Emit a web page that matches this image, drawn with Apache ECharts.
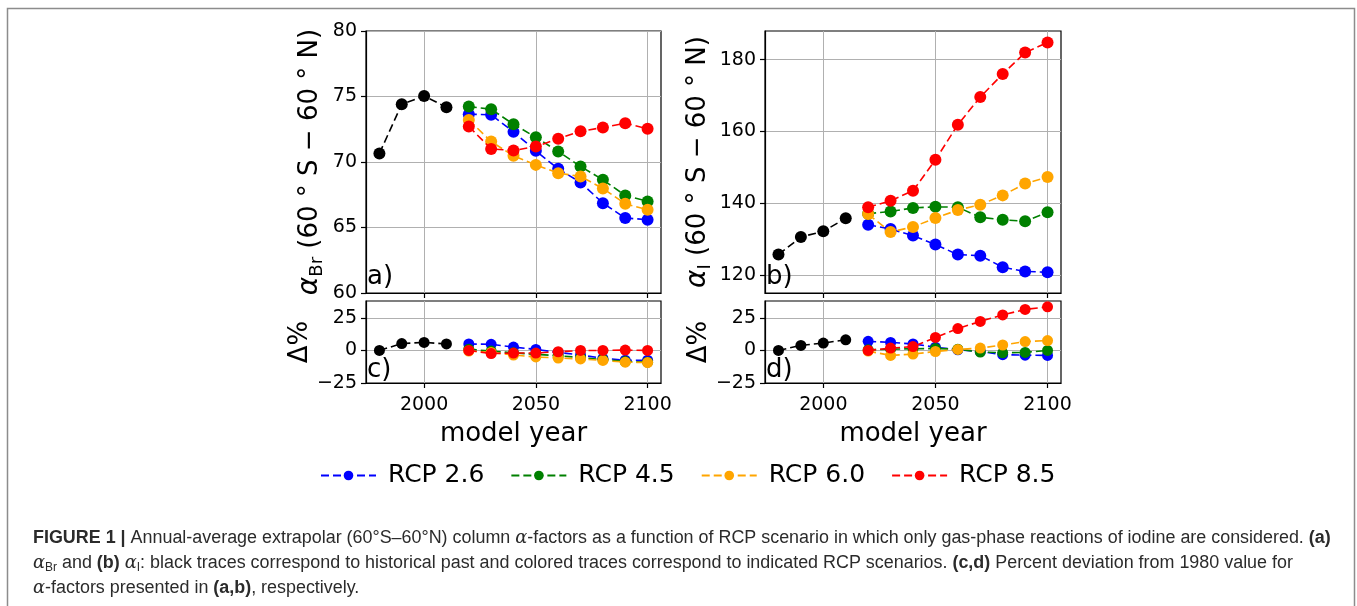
<!DOCTYPE html>
<html><head><meta charset="utf-8">
<script src="https://cdn.jsdelivr.net/npm/echarts@6/dist/echarts.min.js"></script>
<style>html,body{margin:0;padding:0;background:#fff}#c{width:1357px;height:606px}</style>
</head><body><div id="c"></div>
<script>
// ---- data ----
const yearsHist = [1980, 1990, 2000, 2010];
const yearsRcp = [2020, 2030, 2040, 2050, 2060, 2070, 2080, 2090, 2100];
const scenarios = ['RCP 2.6', 'RCP 4.5', 'RCP 6.0', 'RCP 8.5'];
const xTicks = [2000, 2050, 2100];
const aTicks = [60, 65, 70, 75, 80];
const bTicks = [120, 140, 160, 180];
const cdTicks = [-25, 0, 25];

// panel a: alpha_Br
const brHist  = [70.65, 74.41, 75.04, 74.18];
const brRcp26 = [73.65, 73.60, 72.30, 70.85, 69.48, 68.44, 66.86, 65.72, 65.60];
const brRcp45 = [74.23, 74.03, 72.88, 71.89, 70.80, 69.66, 68.64, 67.45, 66.99];
const brRcp60 = [73.21, 71.56, 70.47, 69.78, 69.15, 68.90, 67.98, 66.81, 66.35];
const brRcp85 = [72.71, 71.00, 70.88, 71.18, 71.77, 72.35, 72.63, 72.96, 72.53];
// panel b: alpha_I
const iHist  = [125.7, 130.6, 132.2, 135.8];
const iRcp26 = [134.0, 132.8, 131.0, 128.5, 125.7, 125.4, 122.2, 121.0, 120.8];
const iRcp45 = [137.1, 137.7, 138.7, 139.0, 138.9, 136.1, 135.4, 135.0, 137.5];
const iRcp60 = [137.0, 132.0, 133.4, 135.9, 138.1, 139.6, 142.2, 145.5, 147.3];
const iRcp85 = [138.9, 140.7, 143.5, 152.1, 161.9, 169.6, 176.0, 182.0, 184.8];
// panel c: delta % Br
const dBrHist  = [0, 5.3, 6.2, 5.0];
const dBrRcp26 = [5.0, 4.7, 2.6, 0.8, -1.5, -3.5, -6.0, -7.5, -7.5];
const dBrRcp45 = [1.0, -0.5, -1.8, -3.0, -4.0, -5.5, -7.0, -8.5, -9.0];
const dBrRcp60 = [-0.5, -1.5, -3.5, -5.0, -5.8, -6.5, -7.7, -9.0, -9.3];
const dBrRcp85 = [0, -2.4, -2.0, -2.0, -1.0, 0, 0, 0.3, 0];
// panel d: delta % I
const dIHist  = [0, 3.9, 5.7, 8.2];
const dIRcp26 = [7.0, 6.2, 5.0, 2.5, 0.5, -0.8, -3.2, -3.6, -3.8];
const dIRcp45 = [0.5, 1.0, 1.3, 1.5, 1.0, -1.2, -1.8, -1.5, 0];
const dIRcp60 = [-0.5, -3.8, -2.8, -0.8, 0.8, 1.8, 4.2, 6.8, 7.6];
const dIRcp85 = [0, 1.8, 3.0, 10.0, 16.8, 22.3, 27.3, 31.5, 33.5];

const colors = ['#0000ff', '#008000', '#ffa500', '#ff0000'];
const FONT = 'DejaVu Sans';

const panels = [
  {hist: brHist, rcp: [brRcp26, brRcp45, brRcp60, brRcp85], size: 12},
  {hist: iHist,  rcp: [iRcp26, iRcp45, iRcp60, iRcp85], size: 12},
  {hist: dBrHist, rcp: [dBrRcp26, dBrRcp45, dBrRcp60, dBrRcp85], size: 11},
  {hist: dIHist,  rcp: [dIRcp26, dIRcp45, dIRcp60, dIRcp85], size: 11}
];

function mk(name, color, xs, ys, idx, size, z) {
  return {
    type: 'line', name, xAxisIndex: idx, yAxisIndex: idx,
    data: xs.map((x, i) => [x, ys[i]]),
    symbol: 'circle', symbolSize: size, showSymbol: true,
    itemStyle: {color, borderWidth: 0},
    lineStyle: {color, width: 1.6, type: [8, 4]},
    z, animation: false, emphasis: {disabled: true}
  };
}

const series = [];
panels.forEach((p, idx) => {
  series.push(mk('hist', '#000000', yearsHist, p.hist, idx, p.size, 2));
  p.rcp.forEach((vals, k) => series.push(mk(scenarios[k], colors[k], yearsRcp, vals, idx, p.size, 3 + k)));
});

const grids = [
  {left: 366, top: 31, width: 295, height: 262},
  {left: 765, top: 31, width: 296, height: 262},
  {left: 366, top: 301, width: 295, height: 82},
  {left: 765, top: 301, width: 296, height: 82}
].map(g => Object.assign(g, {show: true, borderColor: '#000', borderWidth: 1.2, backgroundColor: 'transparent'}));

const gridLine = {show: true, lineStyle: {color: '#b0b0b0', width: 1}};
const fmt = v => String(v).replace('-', '\u2212');
const tickLbl = {fontSize: 19, color: '#000', fontFamily: FONT, formatter: fmt};

const xAxes = [0, 1, 2, 3].map(i => ({
  type: 'value', gridIndex: i, min: 1974, max: 2106,
  axisLine: {show: true, onZero: false, lineStyle: {color: '#000', width: 1.2}},
  axisTick: {show: true, customValues: xTicks, length: 5, lineStyle: {color: '#000', width: 1.2}},
  axisLabel: Object.assign({show: i >= 2, customValues: xTicks, margin: 13}, tickLbl),
  splitLine: gridLine,
  name: i >= 2 ? 'model year' : '', nameLocation: 'middle', nameGap: 38,
  nameTextStyle: {fontSize: 26, color: '#000', fontFamily: FONT}
}));

const yName = {fontSize: 26, color: '#000', fontFamily: FONT,
  rich: {
    al: {fontSize: 28, fontStyle: 'italic', fontFamily: FONT, color: '#000'},
    sub: {fontSize: 18, fontFamily: FONT, color: '#000', verticalAlign: 'bottom', padding: [14, 0, 0, 0]},
    t: {fontSize: 26, fontFamily: FONT, color: '#000'}
  }};

function yAx(i, min, max, ticks, name, gap) {
  return {
    type: 'value', gridIndex: i, min, max,
    axisLine: {show: true, lineStyle: {color: '#000', width: 1.2}},
    axisTick: {show: true, customValues: ticks, length: 5, lineStyle: {color: '#000', width: 1.2}},
    axisLabel: Object.assign({customValues: ticks, margin: 9}, tickLbl),
    splitLine: gridLine,
    name, nameLocation: 'middle', nameRotate: 90, nameGap: gap, nameTextStyle: yName
  };
}

const yAxes = [
  yAx(0, 60, 80, aTicks, '{al|α}{sub|Br}{t| (60 ° S − 60 ° N)}', 40),
  yAx(1, 115, 188, bTicks, '{al|α}{sub|I}{t| (60 ° S − 60 ° N)}', 51),
  yAx(2, -25, 38, cdTicks, 'Δ%', 43),
  yAx(3, -25, 38, cdTicks, 'Δ%', 47)
];

const CAPF = 'Liberation Sans';
const capRich = {
  b: {fontWeight: 'bold', fontSize: 18, fontFamily: CAPF, fill: '#2b2b2b'},
  i: {fontStyle: 'italic', fontSize: 18, fontFamily: 'DejaVu Serif', fill: '#2b2b2b'},
  s: {fontSize: 12, fontFamily: CAPF, fill: '#2b2b2b', verticalAlign: 'bottom', padding: [9, 0, 0, 0]}
};
function capLine(text, y) {
  return {type: 'text', x: 33, y, scaleX: 0.995, style: {text, fontSize: 18, fontFamily: CAPF, fill: '#2b2b2b', rich: capRich, verticalAlign: 'middle'}};
}
function panelLbl(t, x, y) {
  return {type: 'text', x, y, z: 100, style: {text: t, fontSize: 26, fontFamily: FONT, fill: '#000', verticalAlign: 'middle'}};
}

const option = {
  animation: false,
  backgroundColor: '#fff',
  grid: grids,
  xAxis: xAxes,
  yAxis: yAxes,
  legend: {
    data: scenarios, left: 320, top: 463, itemGap: 26, itemWidth: 55, itemHeight: 12,
    padding: 0, textStyle: {fontSize: 25, fontFamily: FONT, color: '#000', padding: [0, 0, 0, 7]}, selectedMode: false
  },
  series,
  graphic: [
    {type: 'rect', shape: {x: 7.5, y: 8.5, width: 1347, height: 640}, style: {fill: 'none', stroke: '#8c8c8c', lineWidth: 1.5}},
    panelLbl('a)', 367, 277), panelLbl('b)', 766, 277), panelLbl('c)', 367, 370), panelLbl('d)', 766, 370),
    capLine('{b|FIGURE 1 |} Annual-average extrapolar (60°S–60°N) column {i|α}-factors as a function of RCP scenario in which only gas-phase reactions of iodine are considered. {b|(a)}', 538),
    capLine('{i|α}{s|Br} and {b|(b)} {i|α}{s|I}: black traces correspond to historical past and colored traces correspond to indicated RCP scenarios. {b|(c,d)} Percent deviation from 1980 value for', 563),
    capLine('{i|α}-factors presented in {b|(a,b)}, respectively.', 588)
  ]
};
const chart = echarts.init(document.getElementById('c'), null, {renderer: 'canvas'});
chart.setOption(option);
</script></body></html>
